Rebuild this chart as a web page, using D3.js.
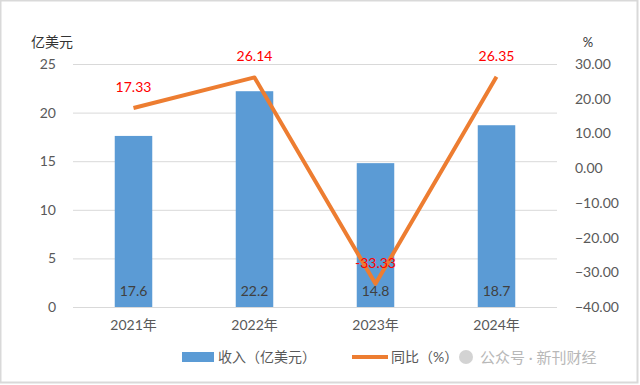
<!DOCTYPE html>
<html>
<head>
<meta charset="utf-8">
<script src="https://cdn.jsdelivr.net/npm/d3@7"></script>
<style>
  body { margin: 0; background: #fff; }
  svg { display: block; }
  text { font-family: Lato, "Noto Sans CJK SC", sans-serif; }
</style>
</head>
<body>
<div id="chart"></div>
<script>
// data
var years = ["2021年", "2022年", "2023年", "2024年"]
var revenue = [17.6, 22.2, 14.8, 18.7]
var yoy = [17.33, 26.14, -33.33, 26.35]
var leftTicks = [0, 5, 10, 15, 20, 25]
var rightTicks = [-40, -30, -20, -10, 0, 10, 20, 30]

var width = 640, height = 385
var plotLeft = 73, plotRight = 557, plotTop = 64, plotBottom = 307

var svg = d3.select("#chart").append("svg")
    .attr("width", width)
    .attr("height", height)

// outer frame
svg.append("rect")
    .attr("x", 0.5).attr("y", 0.5)
    .attr("width", width - 3).attr("height", height - 3)
    .attr("fill", "#fff")
    .attr("stroke", "#d9d9d9")
    .attr("stroke-width", 2)

var x = d3.scaleBand().domain(years).range([plotLeft, plotRight]).paddingInner(0.69).paddingOuter(0.345)
var xc = d3.scaleBand().domain(years).range([plotLeft, plotRight])
var yL = d3.scaleLinear().domain([0, 25]).range([plotBottom, plotTop])
var yR = d3.scaleLinear().domain([-40, 30]).range([plotBottom, plotTop])

// gridlines
svg.append("g")
    .attr("transform", "translate(" + plotLeft + ",0)")
    .call(d3.axisLeft(yL).tickValues(leftTicks).tickSize(-(plotRight - plotLeft)).tickFormat(""))
    .call(function(g) { g.select(".domain").remove() })
    .selectAll("line").attr("stroke", "#d9d9d9").attr("stroke-width", 1)

// left axis labels
var ya = svg.append("g")
    .attr("transform", "translate(" + (plotLeft - 14) + ",0)")
    .call(d3.axisLeft(yL).tickValues(leftTicks).tickSize(0))
ya.select(".domain").remove()
ya.selectAll("text").attr("fill", "#595959").attr("font-size", 14).attr("font-family", "Lato, sans-serif")

// right axis labels
var yr = svg.append("g")
    .attr("transform", "translate(" + (plotRight + 15) + ",0)")
    .call(d3.axisRight(yR).tickValues(rightTicks).tickSize(0).tickFormat(d3.format(".2f")))
yr.select(".domain").remove()
yr.selectAll("text").attr("fill", "#595959").attr("font-size", 14).attr("font-family", "Lato, sans-serif")

// axis titles
svg.append("text").attr("x", 52).attr("y", 47).attr("text-anchor", "middle")
    .attr("font-size", 14).attr("fill", "#333").attr("font-family", "Noto Sans CJK SC")
    .text("亿美元")
svg.append("text").attr("x", 588).attr("y", 47).attr("text-anchor", "middle")
    .attr("font-size", 13).attr("fill", "#333")
    .text("%")

// x axis labels
var xa = svg.append("g")
    .attr("transform", "translate(0," + plotBottom + ")")
    .call(d3.axisBottom(xc).tickSize(0).tickPadding(13))
xa.select(".domain").remove()
xa.selectAll("text").attr("fill", "#595959").attr("font-size", 14).attr("font-family", "Lato, 'Noto Sans CJK SC', sans-serif")

// bars
svg.append("g").selectAll("rect").data(revenue).enter()
    .append("rect")
    .attr("x", function(d, i) { return x(years[i]) })
    .attr("y", function(d) { return yL(d) })
    .attr("width", x.bandwidth())
    .attr("height", function(d) { return plotBottom - yL(d) })
    .attr("fill", "#5b9bd5")

// bar labels
svg.append("g").selectAll("text").data(revenue).enter()
    .append("text")
    .attr("x", function(d, i) { return xc(years[i]) + xc.bandwidth() / 2 })
    .attr("y", plotBottom - 11)
    .attr("text-anchor", "middle")
    .attr("font-size", 14)
    .attr("fill", "#404040")
    .text(function(d) { return d })

// line
var line = d3.line()
    .x(function(d, i) { return xc(years[i]) + xc.bandwidth() / 2 })
    .y(function(d) { return yR(d) })
svg.append("path")
    .datum(yoy)
    .attr("d", line)
    .attr("fill", "none")
    .attr("stroke", "#ed7d31")
    .attr("stroke-width", 4)
    .attr("stroke-linejoin", "round")

// line labels
svg.append("g").selectAll("text").data(yoy).enter()
    .append("text")
    .attr("x", function(d, i) { return xc(years[i]) + xc.bandwidth() / 2 })
    .attr("y", function(d) { return yR(d) - 16 })
    .attr("text-anchor", "middle")
    .attr("font-size", 14)
    .attr("fill", "#ff0000")
    .text(function(d) { return d.toFixed(2) })

// legend
var lg = svg.append("g").attr("transform", "translate(0,357)")
lg.append("rect").attr("x", 182).attr("y", -5).attr("width", 32).attr("height", 10).attr("fill", "#5b9bd5")
lg.append("text").attr("x", 218).attr("y", 5).attr("font-size", 14).attr("fill", "#595959")
    .attr("font-family", "Noto Sans CJK SC").text("收入（亿美元）")
lg.append("line").attr("x1", 352).attr("x2", 388).attr("y1", 0).attr("y2", 0)
    .attr("stroke", "#ed7d31").attr("stroke-width", 4)
lg.append("text").attr("x", 391).attr("y", 5).attr("font-size", 14).attr("fill", "#595959")
    .attr("font-family", "Noto Sans CJK SC").text("同比（%）")

// watermark
lg.append("circle").attr("cx", 466).attr("cy", 0).attr("r", 7).attr("fill", "#c8c8c8").attr("opacity", 0.8)
lg.append("text").attr("x", 480).attr("y", 6).attr("font-size", 15).attr("fill", "#b8b8b8")
    .attr("font-family", "Noto Sans CJK SC").text("公众号 · 新刊财经")
</script>
</body>
</html>
